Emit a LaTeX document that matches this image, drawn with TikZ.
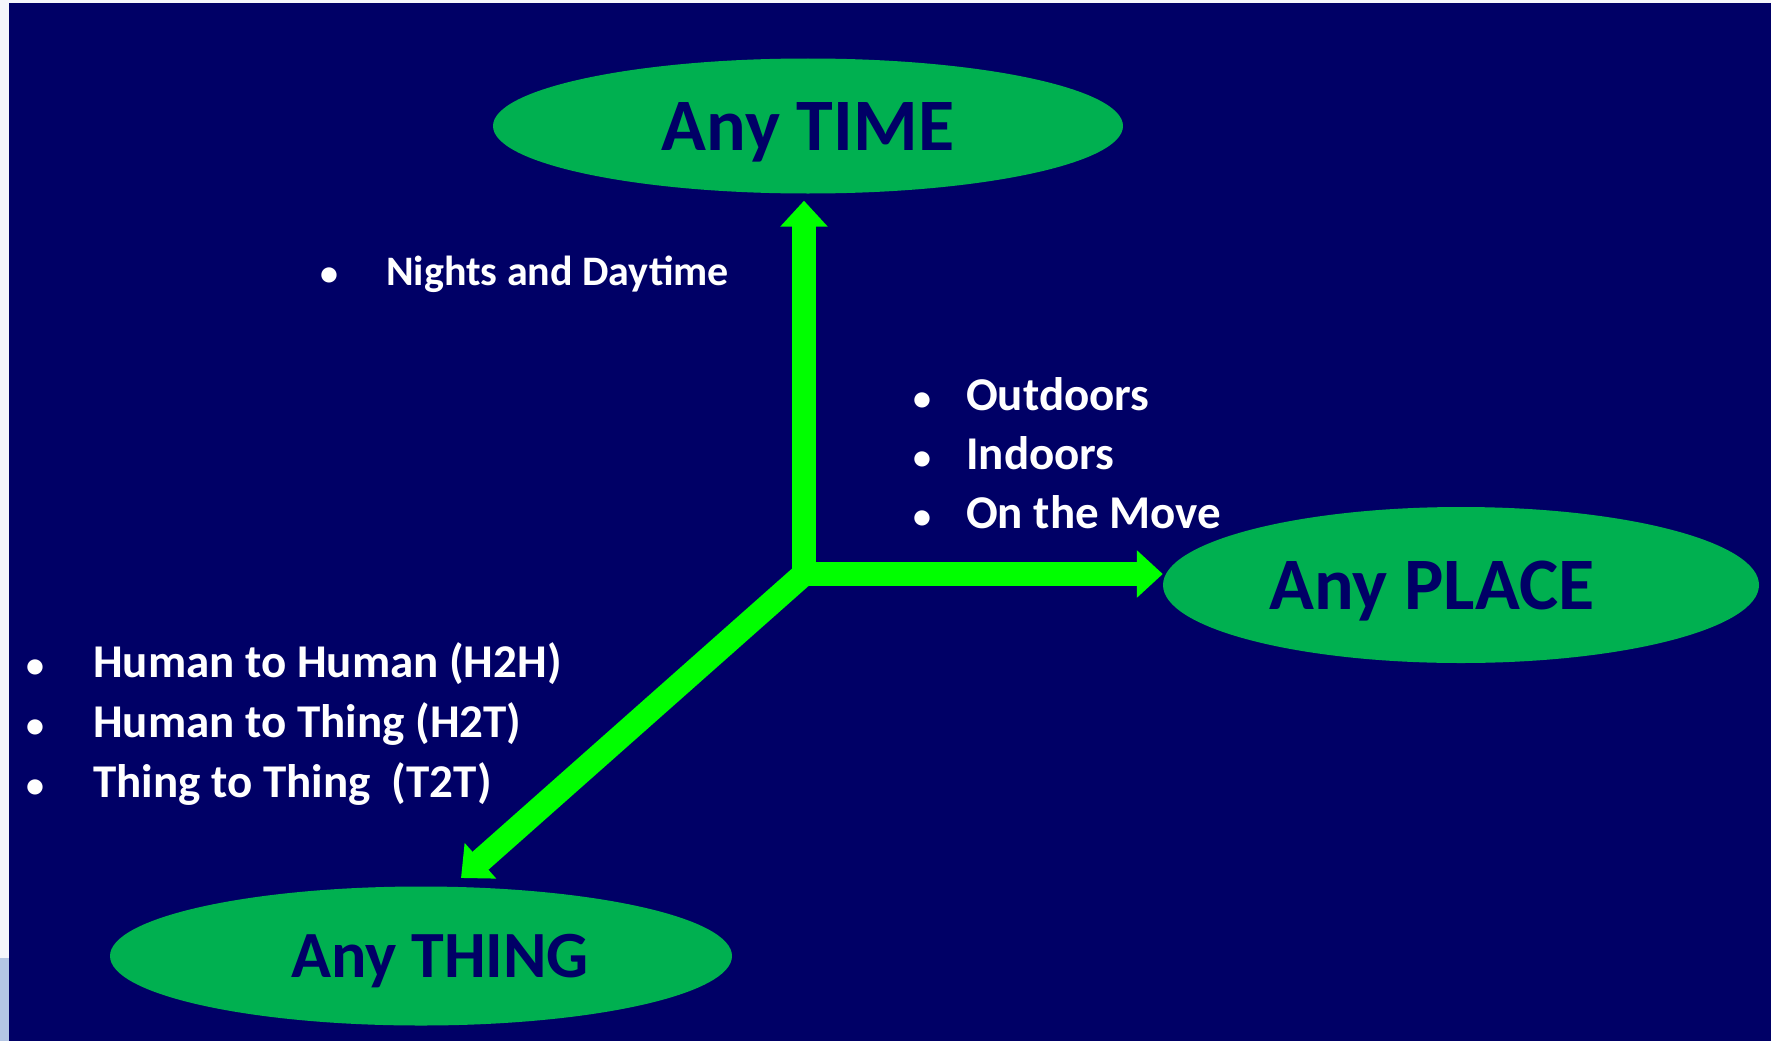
\documentclass[tikz,border=0pt]{standalone}
\usepackage{fontspec}
\setmainfont{Carlito}
\usepackage{tikz}
\usetikzlibrary{arrows.meta,shapes}
\definecolor{navybg}{RGB}{0,0,102}
\definecolor{ovalgreen}{RGB}{0,176,80}
\definecolor{axisgreen}{RGB}{0,255,0}
\definecolor{edgewhite}{RGB}{245,246,251}
\definecolor{edgeblue}{RGB}{180,198,228}

\begin{document}
\begin{tikzpicture}[x=1pt, y=-1pt,
    oval/.style={ellipse, fill=ovalgreen, inner sep=0pt, text=navybg,
        font=\fontsize{74}{80}\selectfont\bfseries, text height=48pt, text depth=0pt},
    ovaltext/.style={text=navybg, inner sep=0pt, text height=43pt, text depth=0pt,
        font=\fontsize{66}{72}\selectfont\bfseries},
    axisarrow/.style={line width=24pt, axisgreen, -{Triangle[width=46pt, length=26pt]}},
    item/.style={anchor=base west, text=white, inner sep=0pt,
        font=\fontsize{47}{54}\selectfont\bfseries},
    dot/.style={anchor=base, text=white, inner sep=0pt,
        font=\fontsize{36}{40}\selectfont\bfseries}]
    \useasboundingbox (0,0) rectangle (1771,1041);

    % 背景
    \fill[edgewhite] (0,0) rectangle (1771,1041);
    \fill[edgeblue] (0,958) rectangle (9,1041);
    \fill[navybg] (9,3) rectangle (1771,1041);

    % 三个椭圆
    \node[oval, minimum width=630pt, minimum height=135pt] (time) at (808,126) {Any TIME};
    \node[oval, minimum width=596pt, minimum height=156pt] (place) at (1461,585) {};
    \node[ovaltext, text height=48pt, font=\fontsize{74}{80}\selectfont\bfseries]
        (placetext) at ([xshift=-29pt]place.center) {Any PLACE};
    \node[oval, minimum width=622pt, minimum height=139pt] (thing) at (421,956) {};
    \node[ovaltext] (thingtext) at ([xshift=19pt]thing.center) {Any THING};

    % 箭头
    \coordinate (hub) at (804,574);
    \coordinate (thingtip) at (461,878);
    \draw[axisarrow] (hub) -- (thingtip);
    \draw[axisarrow] (hub) -- (hub -| place.west);
    \draw[axisarrow, shorten >=7pt] (hub) -- (hub |- time.south);

    % 时间
    \node[dot] (timedot) at (329,285) {•};
    \node[item, font=\fontsize{42}{48}\selectfont\bfseries] (timetext) at (386,285) {Nights and Daytime};

    % 地点
    \node[dot] (placedota) at (922,410) {•};
    \node[item] (placetexta) at (966,410) {Outdoors};
    \node[dot] (placedotb) at (922,469) {•};
    \node[item] (placetextb) at (966,469) {Indoors};
    \node[dot] (placedotc) at (922,528) {•};
    \node[item] (placetextc) at (966,528) {On the Move};

    % 事物
    \node[dot] (thingdota) at (35,677) {•};
    \node[item] (thingtexta) at (93,677) {Human to Human (H2H)};
    \node[dot] (thingdotb) at (35,737) {•};
    \node[item] (thingtextb) at (93,737) {Human to Thing (H2T)};
    \node[dot] (thingdotc) at (35,797) {•};
    \node[item] (thingtextc) at (93,797) {Thing to Thing~ (T2T)};
\end{tikzpicture}
\end{document}
